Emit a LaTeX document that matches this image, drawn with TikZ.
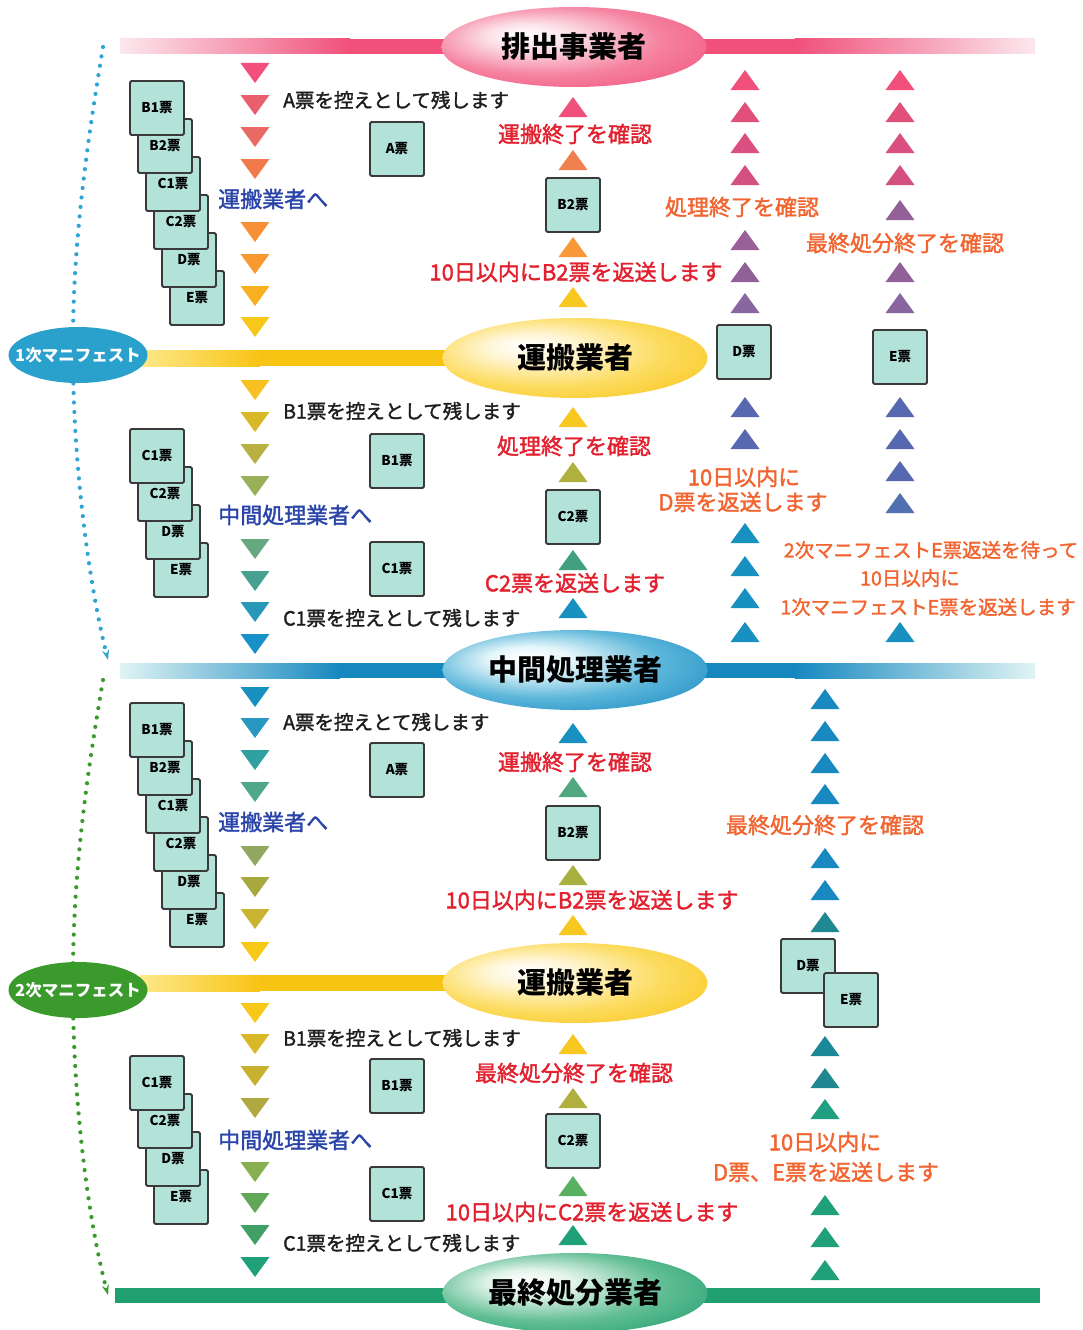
\documentclass[tikz,border=0pt]{standalone}
\usepackage{fontspec}
\usetikzlibrary{arrows.meta,shapes.geometric}
\newfontfamily\jp{Noto Sans CJK JP}
\newfontfamily\jpm[FakeBold=1.6]{Noto Sans CJK JP}
\definecolor{pinkD}{HTML}{F0507A}
\definecolor{pinkL}{HTML}{FCE8EE}
\definecolor{pinkM}{HTML}{F5829F}
\definecolor{pinkC}{HTML}{FCE0E8}
\definecolor{yelD}{HTML}{F8C414}
\definecolor{yelL}{HTML}{FDE88A}
\definecolor{yelM}{HTML}{FCDC60}
\definecolor{yelC}{HTML}{FFF6D8}
\definecolor{bluD}{HTML}{1688C0}
\definecolor{bluL}{HTML}{E0F4F4}
\definecolor{bluM}{HTML}{5CB6DA}
\definecolor{bluC}{HTML}{E4F6FA}
\definecolor{grnD}{HTML}{1C9C6C}
\definecolor{grnM}{HTML}{62BE94}
\definecolor{grnC}{HTML}{E2F4EA}
\definecolor{grnB}{HTML}{20A070}
\definecolor{manblue}{HTML}{2AA0CC}
\definecolor{mangreen}{HTML}{3A9A2C}
\definecolor{dotblue}{HTML}{30A4D4}
\definecolor{dotgreen}{HTML}{3A9A2C}
\definecolor{boxfill}{HTML}{B2E2D8}
\definecolor{boxline}{HTML}{3A3A3A}
\definecolor{txtblack}{HTML}{1E1E1E}
\definecolor{txtblue}{HTML}{2A44A8}
\definecolor{txtred}{HTML}{E2202E}
\definecolor{txtorange}{HTML}{F26430}
\pgfdeclareradialshading{ballpink}{\pgfpoint{-10bp}{8bp}}{color(0bp)=(white); color(8bp)=(pinkC); color(22bp)=(pinkM); color(38bp)=(pinkD); color(50bp)=(pinkD)}
\pgfdeclareradialshading{ballyel}{\pgfpoint{-10bp}{8bp}}{color(0bp)=(white); color(8bp)=(yelC); color(22bp)=(yelM); color(38bp)=(yelD); color(50bp)=(yelD)}
\pgfdeclareradialshading{ballblue}{\pgfpoint{-10bp}{8bp}}{color(0bp)=(white); color(8bp)=(bluC); color(22bp)=(bluM); color(38bp)=(bluD); color(50bp)=(bluD)}
\pgfdeclareradialshading{ballgrn}{\pgfpoint{-10bp}{8bp}}{color(0bp)=(white); color(8bp)=(grnC); color(22bp)=(grnM); color(38bp)=(grnD); color(50bp)=(grnD)}
\newcommand\dtri[3]{\definecolor{tmpc}{HTML}{#3}\fill[tmpc] (#1-14.5,#2-10) -- (#1+14.5,#2-10) -- (#1,#2+10) -- cycle;}
\newcommand\utri[3]{\definecolor{tmpc}{HTML}{#3}\fill[tmpc] (#1-14.5,#2+10) -- (#1+14.5,#2+10) -- (#1,#2-10) -- cycle;}
\begin{document}
\begin{tikzpicture}[x=1pt,y=-1pt,
  bigell/.style={ellipse, shade, minimum width=265pt, minimum height=80pt, inner sep=0pt},
  biglbl/.style={inner sep=0pt, font=\jp\bfseries\fontsize{29}{30}\selectfont, text=black},
  manell/.style={ellipse, minimum width=139pt, minimum height=56pt, inner sep=0pt},
  manlbl/.style={inner sep=0pt, text=white, font=\jp\bfseries\fontsize{16.5}{17}\selectfont},
  docbox/.style={draw=boxline, fill=boxfill, line width=1.8pt, minimum width=54pt, minimum height=54pt, inner sep=0pt, rounded corners=1.5pt, font=\jp\bfseries\fontsize{13.5}{14}\selectfont},
  blk/.style={anchor=west, inner sep=0pt, text=txtblack, font=\jpm\fontsize{19.5}{22}\selectfont},
  blu/.style={anchor=west, inner sep=0pt, text=txtblue, font=\jpm\fontsize{22}{24}\selectfont},
  red/.style={inner sep=0pt, text=txtred, font=\jpm\fontsize{22}{24}\selectfont},
  org/.style={inner sep=0pt, text=txtorange, font=\jpm\fontsize{22}{24}\selectfont},
  orgs/.style={inner sep=0pt, text=txtorange, font=\jpm\fontsize{19.5}{22}\selectfont},
  dotl/.style={line width=4.2pt, line cap=round, dash pattern=on 0pt off 9.5pt}
]
\useasboundingbox (0,0) rectangle (1083,1330);
\fill[white] (0,0) rectangle (1083,1330);

% ---------- bands ----------
\shade[left color=pinkL, right color=pinkD] (120,39) rectangle (350,54);
\fill[pinkD] (349.5,39) rectangle (795,54);
\shade[left color=pinkD, right color=pinkL] (794.5,39) rectangle (1035,54);

\shade[left color=yelL, right color=yelD] (140,350) rectangle (260,366);
\fill[yelD] (259.5,350) rectangle (460,366);

\shade[left color=bluL, right color=bluD] (120,663) rectangle (340,678);
\fill[bluD] (339.5,663) rectangle (795,678);
\shade[left color=bluD, right color=bluL] (794.5,663) rectangle (1035,678);

\shade[left color=yelL, right color=yelD] (140,975) rectangle (260,991);
\fill[yelD] (259.5,975) rectangle (460,991);

\fill[grnB] (115,1288) rectangle (1040,1303);

% ---------- dotted manifest lines ----------
\coordinate (d1s) at (103,47);
\coordinate (d1m) at (73,355);
\coordinate (d1e) at (108,660);
\coordinate (d2s) at (103,680);
\coordinate (d2m) at (73,990);
\coordinate (d2e) at (108,1295);
\draw[dotl, dotblue] (d1s) .. controls (86,150) and (72,250) .. (d1m);
\draw[dotl, dotblue, -{Stealth[length=10pt,width=7pt]}] (d1m) .. controls (73,460) and (88,580) .. (d1e);
\draw[dotl, dotgreen] (d2s) .. controls (86,780) and (72,880) .. (d2m);
\draw[dotl, dotgreen, -{Stealth[length=10pt,width=7pt]}] (d2m) .. controls (73,1100) and (88,1220) .. (d2e);

% ---------- ellipses ----------
\node[bigell, shading=ballpink] (e1) at (574,47) {};
\node[biglbl] (l1) at (e1) {排出事業者};
\node[bigell, shading=ballyel] (e2) at (575,358) {};
\node[biglbl] (l2) at (e2) {運搬業者};
\node[bigell, shading=ballblue] (e3) at (575,670) {};
\node[biglbl] (l3) at (e3) {中間処理業者};
\node[bigell, shading=ballyel] (e4) at (575,983) {};
\node[biglbl] (l4) at (e4) {運搬業者};
\node[bigell, shading=ballgrn] (e5) at (575,1293) {};
\node[biglbl] (l5) at (e5) {最終処分業者};
\node[manell, fill=manblue] (m1) at (78,355) {};
\node[manlbl] (ml1) at (m1) {1次マニフェスト};
\node[manell, fill=mangreen] (m2) at (78,990) {};
\node[manlbl] (ml2) at (m2) {2次マニフェスト};

% ---------- section 1 ----------
\dtri{255}{73}{F0507A}\dtri{255}{105}{E8606E}\dtri{255}{137}{E86A62}\dtri{255}{169}{F07A4C}
\dtri{255}{232}{F89038}\dtri{255}{264}{F89A30}\dtri{255}{296}{F8B020}\dtri{255}{327}{F8C818}
\utri{573}{107}{F0507A}\utri{573}{160}{F08050}\utri{573}{247}{F89838}\utri{573}{297}{F8C820}
\utri{745}{80}{F0507A}\utri{745}{112}{E05078}\utri{745}{143}{DA5080}\utri{745}{175}{D45080}
\utri{745}{240}{9A6098}\utri{745}{272}{926098}\utri{745}{303}{8A66A0}
\utri{900}{80}{F0507A}\utri{900}{112}{E05078}\utri{900}{143}{DA5080}\utri{900}{175}{D45080}
\utri{900}{210}{946098}\utri{900}{272}{926098}\utri{900}{303}{8A66A0}

\node[docbox] (s1e) at (197,298) {E票};
\node[docbox] (s1d) at (189,260) {D票};
\node[docbox] (s1c2) at (181,222) {C2票};
\node[docbox] (s1c1) at (173,184) {C1票};
\node[docbox] (s1b2) at (165,146) {B2票};
\node[docbox] (s1b1) at (157,108) {B1票};
\node[docbox] (s1a) at (397,149) {A票};
\node[docbox] (s1bb) at (573,205) {B2票};
\node[docbox] (s1dd) at (744,352) {D票};
\node[docbox] (s1ee) at (900,357) {E票};

\node[blk] (t1a) at (283,100) {A票を控えとして残します};
\node[blu] (t1b) at (218,199) {運搬業者へ};
\node[red] (t1c) at (575,134) {運搬終了を確認};
\node[red] (t1d) at (576,272) {10日以内にB2票を返送します};
\node[org] (t1e) at (742,207) {処理終了を確認};
\node[org] (t1f) at (905,243) {最終処分終了を確認};

% ---------- section 2 ----------
\dtri{255}{390}{F8C020}\dtri{255}{422}{D8B828}\dtri{255}{454}{B8B040}\dtri{255}{486}{98B058}
\dtri{255}{549}{68A880}\dtri{255}{581}{48A090}\dtri{255}{612}{2898B8}\dtri{255}{644}{1890C8}
\utri{573}{417}{F8C820}\utri{573}{472}{B0B040}\utri{573}{560}{40A080}\utri{573}{608}{1890C0}
\utri{745}{407}{5868B0}\utri{745}{439}{5868B0}
\utri{745}{533}{1890C0}\utri{745}{566}{1890C0}\utri{745}{598}{1890C0}\utri{745}{632}{1890C0}
\utri{900}{407}{5868B0}\utri{900}{439}{5868B0}\utri{900}{471}{5868B0}\utri{900}{503}{5070B0}
\utri{900}{632}{1890C0}

\node[docbox] (s2e) at (181,570) {E票};
\node[docbox] (s2d) at (173,532) {D票};
\node[docbox] (s2c2) at (165,494) {C2票};
\node[docbox] (s2c1) at (157,456) {C1票};
\node[docbox] (s2b) at (397,461) {B1票};
\node[docbox] (s2c) at (397,569) {C1票};
\node[docbox] (s2cc) at (573,517) {C2票};

\node[blk] (t2a) at (283,411) {B1票を控えとして残します};
\node[blu] (t2b) at (218,515) {中間処理業者へ};
\node[blk] (t2c) at (283,618) {C1票を控えとして残します};
\node[red] (t2d) at (574,446) {処理終了を確認};
\node[red] (t2e) at (575,583) {C2票を返送します};
\node[org] (t2f) at (744,477) {10日以内に};
\node[org] (t2g) at (743,502) {D票を返送します};
\node[orgs] (t2h) at (931,550) {2次マニフェストE票返送を待って};
\node[orgs] (t2i) at (910,578) {10日以内に};
\node[orgs] (t2j) at (928,607) {1次マニフェストE票を返送します};

% ---------- section 3 ----------
\dtri{255}{697}{1890C0}\dtri{255}{728}{2898C0}\dtri{255}{760}{30A0A0}\dtri{255}{792}{50A888}
\dtri{255}{856}{90A860}\dtri{255}{887}{A8A840}\dtri{255}{919}{C8B430}\dtri{255}{952}{F8C818}
\utri{573}{733}{1890C0}\utri{573}{787}{50A880}\utri{573}{875}{A8B040}\utri{573}{925}{F8C820}
\utri{825}{699}{1888C0}\utri{825}{731}{1888C0}\utri{825}{763}{1888C0}\utri{825}{794}{1888C0}
\utri{825}{858}{1888C0}\utri{825}{890}{1888C0}\utri{825}{922}{208890}

\node[docbox] (s3e) at (197,920) {E票};
\node[docbox] (s3d) at (189,882) {D票};
\node[docbox] (s3c2) at (181,844) {C2票};
\node[docbox] (s3c1) at (173,806) {C1票};
\node[docbox] (s3b2) at (165,768) {B2票};
\node[docbox] (s3b1) at (157,730) {B1票};
\node[docbox] (s3a) at (397,770) {A票};
\node[docbox] (s3bb) at (573,833) {B2票};
\node[docbox] (s3dd) at (808,966) {D票};
\node[docbox] (s3ee) at (851,1000) {E票};

\node[blk] (t3a) at (283,722) {A票を控えとて残します};
\node[blu] (t3b) at (218,822) {運搬業者へ};
\node[red] (t3c) at (575,762) {運搬終了を確認};
\node[red] (t3d) at (592,900) {10日以内にB2票を返送します};
\node[org] (t3e) at (825,825) {最終処分終了を確認};

% ---------- section 4 ----------
\dtri{255}{1013}{F8C818}\dtri{255}{1044}{D8B828}\dtri{255}{1076}{C8B030}\dtri{255}{1108}{B0A840}
\dtri{255}{1172}{88B050}\dtri{255}{1203}{60A858}\dtri{255}{1235}{40A068}\dtri{255}{1267}{20A078}
\utri{573}{1044}{F8C820}\utri{573}{1098}{B0B040}\utri{573}{1186}{58B060}\utri{573}{1235}{20A078}
\utri{825}{1046}{1A8898}\utri{825}{1078}{208890}\utri{825}{1109}{20A080}
\utri{825}{1205}{20A078}\utri{825}{1237}{20A078}\utri{825}{1270}{20A078}

\node[docbox] (s4e) at (181,1197) {E票};
\node[docbox] (s4d) at (173,1159) {D票};
\node[docbox] (s4c2) at (165,1121) {C2票};
\node[docbox] (s4c1) at (157,1083) {C1票};
\node[docbox] (s4b) at (397,1086) {B1票};
\node[docbox] (s4c) at (397,1194) {C1票};
\node[docbox] (s4cc) at (573,1141) {C2票};

\node[blk] (t4a) at (283,1038) {B1票を控えとして残します};
\node[blu] (t4b) at (218,1140) {中間処理業者へ};
\node[blk] (t4c) at (283,1243) {C1票を控えとして残します};
\node[red] (t4d) at (574,1073) {最終処分終了を確認};
\node[red] (t4e) at (592,1212) {10日以内にC2票を返送します};
\node[org] (t4f) at (825,1142) {10日以内に};
\node[org] (t4g) at (826,1172) {D票、E票を返送します};
\end{tikzpicture}
\end{document}
